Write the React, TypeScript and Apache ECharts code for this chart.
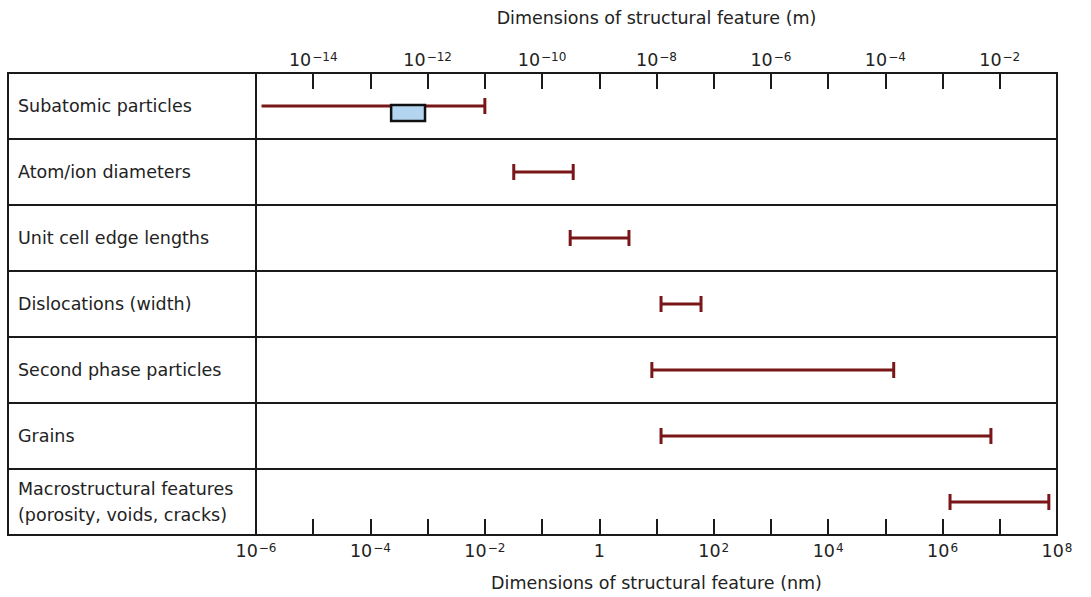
import React, { useEffect, useRef } from 'react';
import * as echarts from 'echarts';

const categories = [
  'Subatomic particles',
  'Atom/ion diameters',
  'Unit cell edge lengths',
  'Dislocations (width)',
  'Second phase particles',
  'Grains',
  'Macrostructural features\n(porosity, voids, cracks)',
];
// ranges in nm
const rangeLowNm = [1.25e-6, 0.032, 0.31, 12, 8.3, 12, 1.35e6];
const rangeHighNm = [1e-2, 0.35, 3.3, 60, 1.4e5, 7e6, 7.2e7];
const openLowEnd = [true, false, false, false, false, false, false];
// nucleus box (subatomic row)
const boxCategoryIndex = [0];
const boxLowNm = [2.3e-4];
const boxHighNm = [9e-4];
// axis label exponents
const topLabelExponents = [-14, -12, -10, -8, -6, -4, -2];
const bottomLabelExponents = [-6, -4, -2, 0, 2, 4, 6, 8];

const FONT = 'DejaVu Sans';
const TXT = '#222';
const LINE = '#1a1a1a';
const BAR = '#7a1518';

const rich = {
  b: { fontSize: 17.5, color: TXT, fontFamily: FONT, lineHeight: 22, verticalAlign: 'bottom' },
  s: { fontSize: 12, color: TXT, fontFamily: FONT, lineHeight: 12, verticalAlign: 'top', padding: [4, 0, 0, 1] },
};

function expLabel(v: number, list: number[]) {
  const e = Math.round(Math.log10(v));
  if (!list.includes(e)) return '';
  if (e === 0) return '{b|1}';
  return '{b|10}{s|' + (e < 0 ? '\u2212' + -e : '' + e) + '}';
}

export default function App() {
  const ref = useRef<HTMLDivElement>(null);
  useEffect(() => {
    if (!ref.current) return;
    const chart = echarts.init(ref.current, undefined, { renderer: 'svg' });
    const barData = categories.map((_, i) => [i, rangeLowNm[i], rangeHighNm[i], openLowEnd[i] ? 1 : 0]);
    const boxData = boxCategoryIndex.map((c, i) => [c, boxLowNm[i], boxHighNm[i]]);
    const yBase = {
      type: 'category',
      data: categories,
      inverse: true,
      axisLine: { show: false },
      axisTick: { show: false },
      splitLine: { show: true, lineStyle: { color: LINE, width: 2 } },
    };
    const tick = { show: true, inside: true, length: 16, lineStyle: { color: LINE, width: 2 } };
    chart.setOption({
      animation: false,
      backgroundColor: '#fff',
      grid: [
        { left: 8, top: 73, width: 248, height: 462, show: true, borderColor: LINE, borderWidth: 2, outerBoundsMode: 'none', containLabel: false },
        { left: 256, top: 73, width: 801, height: 462, show: true, borderColor: LINE, borderWidth: 2, outerBoundsMode: 'none', containLabel: false },
      ],
      xAxis: [
        { gridIndex: 0, type: 'value', show: false },
        {
          gridIndex: 1,
          type: 'log',
          logBase: 10,
          position: 'bottom',
          min: 1e-6,
          max: 1e8,
          interval: 1,
          splitNumber: 14,
          axisLine: { show: false },
          axisTick: tick,
          splitLine: { show: false },
          axisLabel: {
            margin: 3,
            showMinLabel: true,
            showMaxLabel: true,
            hideOverlap: false,
            formatter: (v: number) => expLabel(v, bottomLabelExponents),
            rich,
          },
          name: 'Dimensions of structural feature (nm)',
          nameLocation: 'middle',
          nameGap: 39,
          nameTextStyle: { fontSize: 17.5, color: TXT, fontFamily: FONT },
        },
        {
          gridIndex: 1,
          type: 'log',
          logBase: 10,
          position: 'top',
          min: 1e-15,
          max: 1e-1,
          interval: 1,
          splitNumber: 14,
          axisLine: { show: false },
          axisTick: tick,
          splitLine: { show: false },
          axisLabel: {
            margin: 4,
            showMinLabel: true,
            showMaxLabel: true,
            hideOverlap: false,
            formatter: (v: number) => expLabel(v, topLabelExponents),
            rich,
          },
          name: 'Dimensions of structural feature (m)',
          nameLocation: 'middle',
          nameGap: 46,
          nameTextStyle: { fontSize: 17.5, color: TXT, fontFamily: FONT },
        },
      ],
      yAxis: [
        {
          ...yBase,
          gridIndex: 0,
          axisLabel: { inside: true, margin: 10, fontSize: 17.5, color: TXT, fontFamily: FONT, lineHeight: 26, align: 'left' },
        },
        { ...yBase, gridIndex: 1, axisLabel: { show: false } },
      ],
      series: [
        {
          type: 'custom',
          xAxisIndex: 1,
          yAxisIndex: 1,
          encode: { x: [1, 2], y: 0 },
          data: barData,
          renderItem: (params: any, api: any) => {
            const row = api.value(0);
            const p1 = api.coord([api.value(1), row]);
            const p2 = api.coord([api.value(2), row]);
            const open = api.value(3) === 1;
            const st = { stroke: BAR, lineWidth: 3 };
            const h = 8;
            const children: any[] = [
              { type: 'line', shape: { x1: p1[0], y1: p1[1], x2: p2[0], y2: p2[1] }, style: st },
              { type: 'line', shape: { x1: p2[0], y1: p2[1] - h, x2: p2[0], y2: p2[1] + h }, style: st },
            ];
            if (!open) children.push({ type: 'line', shape: { x1: p1[0], y1: p1[1] - h, x2: p1[0], y2: p1[1] + h }, style: st });
            return { type: 'group', children };
          },
        },
        {
          type: 'custom',
          xAxisIndex: 1,
          yAxisIndex: 1,
          encode: { x: [1, 2], y: 0 },
          data: boxData,
          renderItem: (params: any, api: any) => {
            const row = api.value(0);
            const p1 = api.coord([api.value(1), row]);
            const p2 = api.coord([api.value(2), row]);
            return {
              type: 'rect',
              shape: { x: p1[0], y: p1[1] - 1, width: p2[0] - p1[0], height: 16 },
              style: { fill: '#b4d5ef', stroke: '#111', lineWidth: 2.5 },
            };
          },
        },
      ],
    });
    return () => chart.dispose();
  }, []);
  return <div ref={ref} style={{ position: 'fixed', left: 0, top: 0, width: 1091, height: 597 }} />;
}
